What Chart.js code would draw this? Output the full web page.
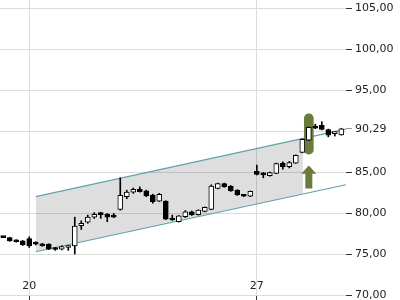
<!DOCTYPE html>
<html>
<head>
<meta charset="utf-8">
<script src="https://cdn.jsdelivr.net/npm/chart.js@4/dist/chart.umd.min.js"></script>
<style>
  html, body { margin: 0; padding: 0; background: #fff; }
  #wrap { width: 400px; height: 300px; overflow: hidden; }
</style>
</head>
<body>
<div id="wrap"><canvas id="priceChart" width="400" height="310"></canvas></div>
<script>
// candles, one per index
var opens  = [77.1, 77.0, 76.7, 76.6, 76.9, 76.35, 76.2, 76.2, 75.75, 75.6, 75.8, 76.0, 78.45, 78.9, 79.5, 79.95, 79.85, 79.65,
              80.45, 82.0, 82.55, 82.9, 82.7, 82.2, 81.45, 81.45, 79.35, 78.95, 79.55, 80.15, 79.8, 80.2, 80.45, 83.0, 83.6, 83.3,
              82.8, 82.2, 82.05, 85.1, 84.75, 84.55, 84.85, 86.1, 85.65, 86.1, 87.4, 88.9, 90.6, 90.7, 90.2, 89.7, 89.55];
var highs  = [77.15, 77.05, 76.75, 76.65, 77.1, 76.5, 76.3, 76.25, 75.8, 76.0, 76.05, 79.5, 79.05, 79.75, 80.05, 80.1, 79.95, 79.95,
              84.3, 82.8, 83.05, 83.2, 82.8, 82.3, 82.4, 81.5, 79.75, 79.7, 80.3, 80.25, 80.4, 80.75, 83.45, 83.65, 83.65, 83.35,
              82.85, 82.25, 82.7, 85.85, 84.95, 85.0, 86.1, 86.25, 86.3, 87.1, 89.05, 90.5, 90.85, 91.15, 90.25, 89.9, 90.35];
var lows   = [77.0, 76.55, 76.45, 76.05, 75.8, 76.1, 75.95, 75.55, 75.45, 75.5, 75.45, 75.0, 78.0, 78.75, 79.35, 79.35, 78.95, 79.45,
              80.35, 81.75, 82.4, 82.55, 82.0, 81.2, 81.4, 79.2, 79.1, 78.9, 79.45, 79.7, 79.75, 80.15, 80.4, 82.95, 83.15, 82.65,
              82.15, 82.0, 82.0, 84.65, 84.3, 84.5, 84.8, 85.35, 85.5, 86.05, 87.35, 88.85, 90.3, 90.15, 89.3, 89.4, 89.5];
var closes = [77.0, 76.6, 76.5, 76.1, 76.0, 76.2, 76.0, 75.6, 75.55, 75.9, 75.85, 78.4, 78.75, 79.5, 79.85, 79.8, 79.5, 79.5,
              82.15, 82.55, 82.9, 82.6, 82.1, 81.4, 82.3, 79.25, 79.15, 79.65, 80.15, 79.8, 80.35, 80.7, 83.3, 83.6, 83.2, 82.7,
              82.2, 82.05, 82.65, 84.7, 84.65, 84.95, 86.05, 85.65, 86.15, 87.05, 89.0, 90.45, 90.35, 90.2, 89.5, 89.75, 90.29];

// axes
var dayTicks = [4, 39];
var dayLabels = ['20', '27'];
var priceTicks = [70, 75, 80, 85, 90, 90.29, 95, 100, 105];
var lastPrice = 90.29;

// trend channel
var channelX = [5, 52.7];
var channelUpper = [82.0, 90.24];
var channelLower = [75.28, 83.45];
var shadeX = [5, 46.1];
var shadeUpper = [82.0, 89.1];
var shadeLower = [75.28, 82.32];

// signal marker
var markIndex = 47;
var markRange = [87.2, 92.1];
var arrowLevels = [83.0, 84.8, 85.8]; // foot, head base, tip

var olive = '#6b7c3a';
var teal = '#5fa2aa';
var tickFont = { family: 'DejaVu Sans', size: 11 };

function pts(xs, ys) {
  return xs.map(function (x, i) { return { x: x, y: ys[i] }; });
}

var arrowPlugin = {
  id: 'signalArrow',
  afterDatasetsDraw: function (chart) {
    var xs = chart.scales.x, ys = chart.scales.y, c = chart.ctx;
    var cx = xs.getPixelForValue(markIndex);
    var yFoot = ys.getPixelForValue(arrowLevels[0]);
    var yBase = ys.getPixelForValue(arrowLevels[1]);
    var yTip = ys.getPixelForValue(arrowLevels[2]);
    c.save();
    c.fillStyle = olive;
    c.beginPath();
    c.moveTo(cx - 3.5, yFoot);
    c.lineTo(cx - 3.5, yBase);
    c.lineTo(cx - 7.5, yBase);
    c.lineTo(cx, yTip);
    c.lineTo(cx + 7.5, yBase);
    c.lineTo(cx + 3.5, yBase);
    c.lineTo(cx + 3.5, yFoot);
    c.closePath();
    c.fill();
    c.restore();
  }
};

var ctx = document.getElementById('priceChart').getContext('2d');
var priceChart = new Chart(ctx, {
  type: 'bar',
  data: {
    datasets: [{
      type: 'line',
      data: pts(shadeX, shadeUpper),
      borderColor: 'rgba(0,0,0,0)',
      pointRadius: 0,
      fill: '+1',
      backgroundColor: 'rgba(0,0,0,0.13)',
      order: 10
    }, {
      type: 'line',
      data: pts(shadeX, shadeLower),
      borderColor: 'rgba(0,0,0,0)',
      pointRadius: 0,
      fill: false,
      order: 10
    }, {
      type: 'line',
      data: pts(channelX, channelUpper),
      borderColor: teal,
      borderWidth: 1.2,
      pointRadius: 0,
      fill: false,
      order: 8
    }, {
      type: 'line',
      data: pts(channelX, channelLower),
      borderColor: teal,
      borderWidth: 1.2,
      pointRadius: 0,
      fill: false,
      order: 8
    }, {
      data: [{ x: markIndex, y: markRange }],
      backgroundColor: olive,
      barThickness: 9,
      borderRadius: 5,
      borderSkipped: false,
      grouped: false,
      order: 6
    }, {
      data: lows.map(function (l, i) { return { x: i, y: [l, highs[i]] }; }),
      backgroundColor: '#000',
      barThickness: 1,
      grouped: false,
      order: 2
    }, {
      data: opens.map(function (o, i) { return { x: i, y: [o, closes[i]] }; }),
      backgroundColor: closes.map(function (c, i) { return c >= opens[i] ? '#fff' : '#000'; }),
      borderColor: '#000',
      borderWidth: 1,
      borderSkipped: false,
      barThickness: 5,
      minBarLength: 2,
      grouped: false,
      order: 1
    }]
  },
  options: {
    responsive: false,
    animation: false,
    layout: { padding: 0 },
    plugins: {
      legend: { display: false },
      tooltip: { enabled: false }
    },
    scales: {
      x: {
        type: 'linear',
        min: -0.5,
        max: 52.72,
        offset: false,
        afterBuildTicks: function (s) { s.ticks = dayTicks.map(function (v) { return { value: v }; }); },
        afterFit: function (s) { s.height = 15; s.paddingLeft = 0; s.paddingRight = 0; },
        grid: { offset: false, color: '#dcdcdc', tickColor: '#333', tickLength: 5 },
        border: { display: false },
        ticks: {
          mirror: true,
          padding: 2,
          autoSkip: false,
          maxRotation: 0,
          color: '#222',
          font: tickFont,
          callback: function (v) { return dayLabels[dayTicks.indexOf(v)]; }
        }
      },
      y: {
        position: 'right',
        min: 70,
        max: 106,
        afterBuildTicks: function (s) { s.ticks = priceTicks.map(function (v) { return { value: v }; }); },
        afterFit: function (s) { s.width = 54; s.paddingTop = 0; s.paddingBottom = 0; },
        grid: {
          color: function (c) { return c.tick && c.tick.value === lastPrice ? 'rgba(0,0,0,0)' : '#dcdcdc'; },
          tickColor: function (c) {
            if (!c.tick) return '#333';
            if (c.tick.value === 90) return 'rgba(0,0,0,0)';
            return c.tick.value === lastPrice ? '#999' : '#333';
          },
          tickLength: 6
        },
        border: { display: false },
        ticks: {
          autoSkip: false,
          padding: 3,
          color: '#222',
          font: tickFont,
          callback: function (v) { return v === 90 ? '' : v.toFixed(2).replace('.', ','); }
        }
      }
    }
  },
  plugins: [arrowPlugin]
});
</script>
</body>
</html>
